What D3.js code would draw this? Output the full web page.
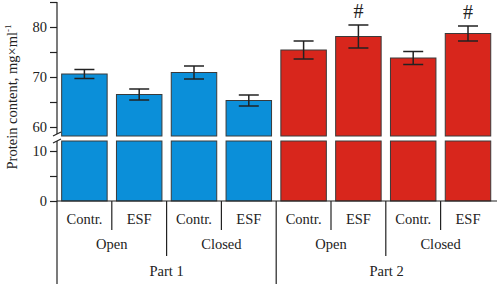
<!DOCTYPE html>
<html>
<head>
<meta charset="utf-8">
<script src="https://cdn.jsdelivr.net/npm/d3@7"></script>
<style>
  body { margin: 0; background: #fff; }
  text { font-family: "Liberation Serif", "DejaVu Serif", serif; fill: #222; }
</style>
</head>
<body>
<svg id="chart" width="500" height="288"></svg>
<script>
// ─── Data ───
const parts      = ["Part 1", "Part 2"];
const conditions = ["Open", "Closed"];
const treatments = ["Contr.", "ESF"];
const values     = [70.6, 66.5, 70.9, 65.3, 75.4, 78.1, 73.8, 78.7];
const errors     = [0.9, 1.1, 1.3, 1.1, 1.8, 2.3, 1.3, 1.5];
const marks      = ["", "", "", "", "", "#", "", "#"];
const upperTicks = [60, 65, 70, 75, 80, 85];
const lowerTicks = [0, 5, 10];

// one entry per bar
const bars = [];
parts.forEach((p, pi) => conditions.forEach((c, ci) => treatments.forEach((t, ti) => {
  const i = bars.length;
  bars.push({ key: p + "|" + c + "|" + t, part: pi, cond: c, treat: t,
              value: values[i], err: errors[i], mark: marks[i] });
})));

const svg = d3.select("#chart");
const axisX = 57, baseY = 201;
const upperBottom = 136, lowerTop = 141;
const fs = 14.5;

// ─── Scales ───
const x = d3.scaleBand()
  .domain(bars.map(d => d.key))
  .range([axisX, 495.4])
  .paddingInner(0.17)
  .paddingOuter(0.085);

const yTop = d3.scaleLinear().domain([60, 85]).range([127, 2]);
const yBot = d3.scaleLinear().domain([0, 10]).range([baseY, 151]);

const fill = d => d.part === 0 ? "#0b8fd9" : "#d8261c";

// ─── Bars (two segments) ───
svg.append("g").selectAll("rect")
  .data(bars).enter().append("rect")
    .attr("x", d => x(d.key))
    .attr("y", d => yTop(d.value))
    .attr("width", x.bandwidth())
    .attr("height", d => upperBottom - yTop(d.value))
    .attr("fill", fill)
    .attr("stroke", "#3a3a3a")
    .attr("stroke-width", 1);

svg.append("g").selectAll("rect")
  .data(bars).enter().append("rect")
    .attr("x", d => x(d.key))
    .attr("y", lowerTop)
    .attr("width", x.bandwidth())
    .attr("height", baseY - lowerTop)
    .attr("fill", fill)
    .attr("stroke", "#3a3a3a")
    .attr("stroke-width", 1);

// ─── Error bars ───
const eb = svg.append("g").attr("stroke", "#222").attr("stroke-width", 1.5);
bars.forEach(d => {
  const cx = x(d.key) + x.bandwidth() / 2;
  const hi = yTop(d.value + d.err), lo = yTop(d.value - d.err);
  eb.append("line").attr("x1", cx).attr("x2", cx).attr("y1", hi).attr("y2", lo);
  eb.append("line").attr("x1", cx - 10).attr("x2", cx + 10).attr("y1", hi).attr("y2", hi);
  eb.append("line").attr("x1", cx - 10).attr("x2", cx + 10).attr("y1", lo).attr("y2", lo);
  if (d.mark) {
    svg.append("text")
      .attr("x", cx).attr("y", hi - 7)
      .attr("text-anchor", "middle")
      .attr("font-size", 20)
      .text(d.mark);
  }
});

// ─── Y axes ───
function styleAxis(g) {
  g.select(".domain").remove();
  g.selectAll(".tick line").attr("stroke", "#222").attr("stroke-width", 1.2);
  g.selectAll(".tick text").attr("font-size", fs).attr("fill", "#222")
    .attr("font-family", "Liberation Serif");
}
svg.append("g").attr("transform", `translate(${axisX},0)`)
  .call(d3.axisLeft(yTop).tickValues(upperTicks).tickSize(7).tickPadding(3)
    .tickFormat(v => v % 10 === 0 && v < 85 ? v : ""))
  .call(styleAxis);
svg.append("g").attr("transform", `translate(${axisX},0)`)
  .call(d3.axisLeft(yBot).tickValues(lowerTicks).tickSize(7).tickPadding(3)
    .tickFormat(v => v % 10 === 0 ? v : ""))
  .call(styleAxis);

const lines = svg.append("g").attr("stroke", "#222").attr("stroke-width", 1.2);
// axis line with break
lines.append("line").attr("x1", axisX).attr("x2", axisX).attr("y1", yTop(85)).attr("y2", 134);
lines.append("line").attr("x1", axisX).attr("x2", axisX).attr("y1", 141).attr("y2", 284);
lines.append("line").attr("x1", 53).attr("x2", 61).attr("y1", 136).attr("y2", 132);
lines.append("line").attr("x1", 53).attr("x2", 61).attr("y1", 143).attr("y2", 139);
// baseline
lines.append("line").attr("x1", axisX).attr("x2", 497).attr("y1", baseY).attr("y2", baseY);

// ─── Hierarchical category labels ───
const gap = x.step() - x.bandwidth();
bars.forEach((d, i) => {
  const cx = x(d.key) + x.bandwidth() / 2;
  svg.append("text").attr("x", cx).attr("y", 224)
    .attr("text-anchor", "middle").attr("font-size", fs).text(d.treat);
  if (i === 0) return;
  const sx = x(d.key) - gap / 2;
  const len = i % 4 === 0 ? 284 : (i % 2 === 0 ? 256 : 230);
  lines.append("line").attr("x1", sx).attr("x2", sx).attr("y1", baseY).attr("y2", len);
});

// condition labels
for (let g = 0; g < bars.length / 2; g++) {
  const a = bars[g * 2], b = bars[g * 2 + 1];
  const cx = (x(a.key) + x(b.key) + x.bandwidth()) / 2;
  svg.append("text").attr("x", cx).attr("y", 249)
    .attr("text-anchor", "middle").attr("font-size", fs).text(a.cond);
}
// part labels
parts.forEach((p, pi) => {
  const first = bars[pi * 4], last = bars[pi * 4 + 3];
  const x0 = pi === 0 ? axisX : x(first.key) - gap / 2;
  const x1 = pi === parts.length - 1 ? 497 : x(last.key) + x.bandwidth() + gap / 2;
  svg.append("text").attr("x", (x0 + x1) / 2).attr("y", 276)
    .attr("text-anchor", "middle").attr("font-size", fs).text(p);
});

// ─── Y label ───
const yl = svg.append("text")
  .attr("transform", "translate(17,97) rotate(-90)")
  .attr("text-anchor", "middle")
  .attr("font-size", fs);
yl.append("tspan").text("Protein content, mg\u00d7ml");
yl.append("tspan").attr("font-size", 9).attr("dy", -6).text("-1");
</script>
</body>
</html>
